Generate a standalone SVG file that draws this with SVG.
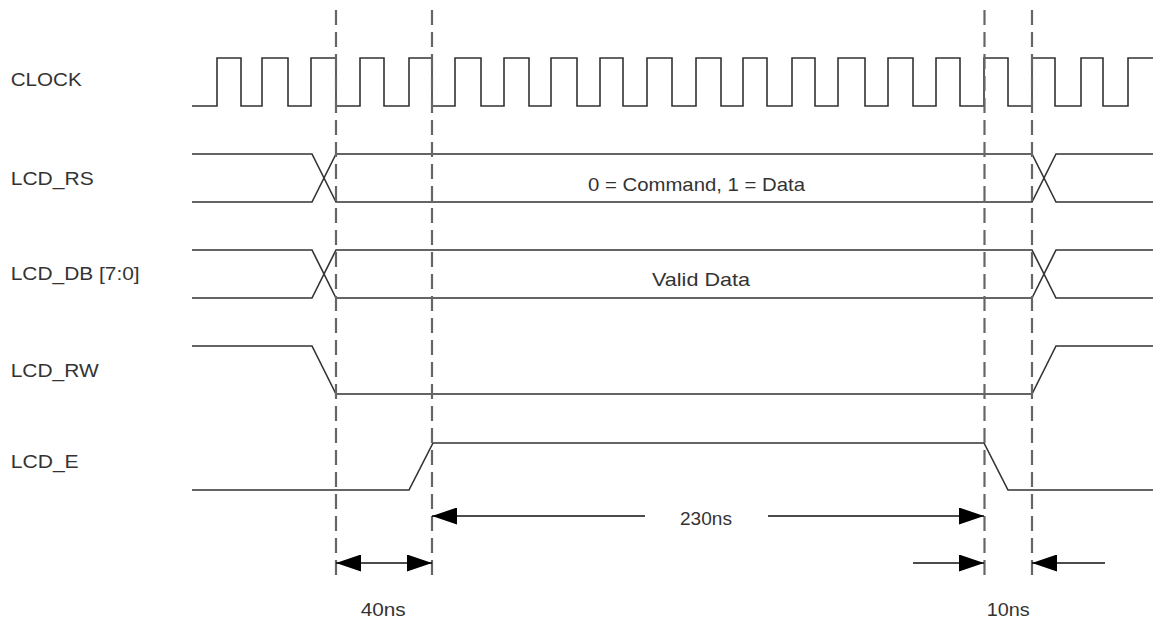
<svg xmlns="http://www.w3.org/2000/svg" width="1153" height="621" viewBox="0 0 1153 621">
<style>
.sig{fill:none;stroke:#333;stroke-width:1.6;stroke-linejoin:miter}
.dash{fill:none;stroke:#666;stroke-width:2.2;stroke-dasharray:15 7}
.arr{fill:none;stroke:#111;stroke-width:1.5}
text{font-family:"Liberation Sans",Arial,sans-serif;font-size:19px;fill:#333}
</style>
<defs>
<marker id="ah" markerUnits="userSpaceOnUse" markerWidth="25" markerHeight="17" refX="25" refY="8.5" orient="auto-start-reverse" viewBox="0 0 25 17">
<path d="M0,0 L25,8.5 L0,17 Z" fill="#000"/>
</marker>
</defs>
<rect width="1153" height="621" fill="#fff"/>
<g id="labels">
<text x="10.7" y="86" textLength="71" lengthAdjust="spacingAndGlyphs">CLOCK</text>
<text x="10.7" y="185" textLength="83" lengthAdjust="spacingAndGlyphs">LCD_RS</text>
<text x="10.7" y="280" textLength="129" lengthAdjust="spacingAndGlyphs">LCD_DB [7:0]</text>
<text x="10.7" y="377" textLength="88" lengthAdjust="spacingAndGlyphs">LCD_RW</text>
<text x="10.7" y="468" textLength="68" lengthAdjust="spacingAndGlyphs">LCD_E</text>
</g>
<g id="clock">
<path class="sig" d="M192,106 H217 V58 H241 V106 H262 V58 H288 V106 H311 V58 H336 V106 H360 V58 H384 V106 H409 V58 H432 V106 H455 V58 H481 V106 H504 V58 H529 V106 H551 V58 H577 V106 H600 V58 H623 V106 H647 V58 H672 V106 H696 V58 H721 V106 H743 V58 H767 V106 H792 V58 H815 V106 H838 V58 H865 V106 H888 V58 H913 V106 H936 V58 H960 V106 H984 V58 H1008 V106 H1032 V58 H1055 V106 H1081 V58 H1103 V106 H1128 V58 H1153"/>
</g>
<g id="lcd_rs">
<path class="sig" d="M192,154 H312 L336,202 H1032 L1056,154 H1153"/>
<path class="sig" d="M192,202 H312 L336,154 H1032 L1056,202 H1153"/>
<text x="588" y="191" textLength="217" lengthAdjust="spacingAndGlyphs">0 = Command, 1 = Data</text>
</g>
<g id="lcd_db">
<path class="sig" d="M192,250 H312 L336,298 H1032 L1056,250 H1153"/>
<path class="sig" d="M192,298 H312 L336,250 H1032 L1056,298 H1153"/>
<text x="652" y="286" textLength="98" lengthAdjust="spacingAndGlyphs">Valid Data</text>
</g>
<g id="lcd_rw">
<path class="sig" d="M192,346 H312 L336,394 H1032 L1056,346 H1153"/>
</g>
<g id="lcd_e">
<path class="sig" d="M192,490 H409 L433,443 H984 L1008,490 H1153"/>
</g>
<g id="connectors">
<line class="dash" x1="336" y1="10" x2="336" y2="578"/>
<line class="dash" x1="432" y1="10" x2="432" y2="578"/>
<line class="dash" x1="984.5" y1="10" x2="984.5" y2="578"/>
<line class="dash" x1="1032" y1="10" x2="1032" y2="578"/>
<line class="arr" x1="645" y1="516" x2="432" y2="516" marker-end="url(#ah)"/>
<line class="arr" x1="768" y1="516" x2="984" y2="516" marker-end="url(#ah)"/>
<line class="arr" x1="336" y1="563" x2="432" y2="563" marker-start="url(#ah)" marker-end="url(#ah)"/>
<line class="arr" x1="913" y1="563" x2="984" y2="563" marker-end="url(#ah)"/>
<line class="arr" x1="1105" y1="563" x2="1032" y2="563" marker-end="url(#ah)"/>
</g>
<g id="timing-labels">
<text x="680" y="525" textLength="52" lengthAdjust="spacingAndGlyphs">230ns</text>
<text x="360.7" y="616" textLength="45" lengthAdjust="spacingAndGlyphs">40ns</text>
<text x="986.7" y="616" textLength="43" lengthAdjust="spacingAndGlyphs">10ns</text>
</g>
</svg>
